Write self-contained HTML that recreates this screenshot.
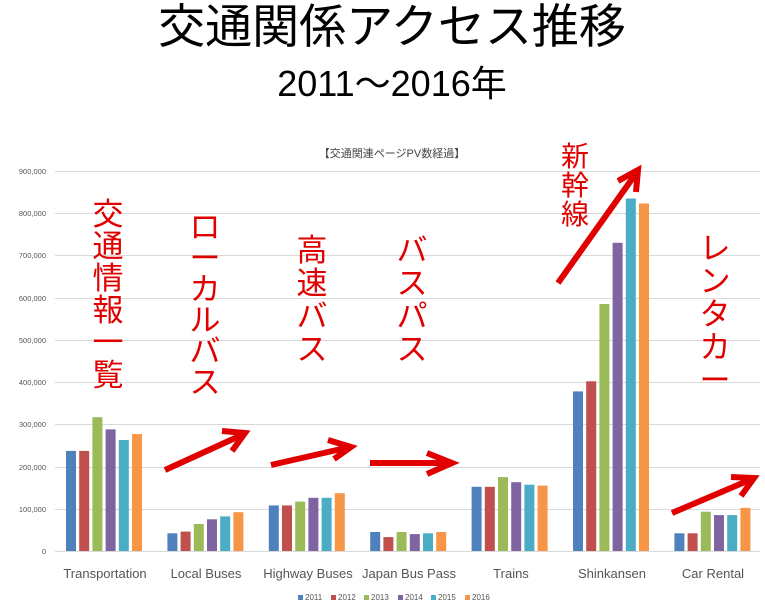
<!DOCTYPE html>
<html><head><meta charset="utf-8"><style>
html,body{margin:0;padding:0;background:#fff;}
svg{display:block;}
</style></head><body>
<svg width="765" height="611" viewBox="0 0 765 611" xmlns="http://www.w3.org/2000/svg" font-family="'Liberation Sans','Noto Sans CJK JP',sans-serif">
<text x="392" y="43" font-size="47" text-anchor="middle" fill="#000">交通関係アクセス推移</text>
<text x="392" y="96" font-size="36" text-anchor="middle" fill="#000">2011～2016年</text>
<text x="392" y="157" font-size="11" text-anchor="middle" fill="#444">【交通関連ページPV数経過】</text>
<g stroke="#d9d9d9" stroke-width="1">
<line x1="55" x2="760" y1="171.5" y2="171.5"/>
<line x1="55" x2="760" y1="213.5" y2="213.5"/>
<line x1="55" x2="760" y1="255.5" y2="255.5"/>
<line x1="55" x2="760" y1="298.5" y2="298.5"/>
<line x1="55" x2="760" y1="340.5" y2="340.5"/>
<line x1="55" x2="760" y1="382.5" y2="382.5"/>
<line x1="55" x2="760" y1="424.5" y2="424.5"/>
<line x1="55" x2="760" y1="467.5" y2="467.5"/>
<line x1="55" x2="760" y1="509.5" y2="509.5"/>
<line x1="55" x2="760" y1="551.5" y2="551.5"/>
</g>
<g font-size="7.5" fill="#555" text-anchor="end">
<text x="46" y="174">900,000</text>
<text x="46" y="216">800,000</text>
<text x="46" y="258">700,000</text>
<text x="46" y="301">600,000</text>
<text x="46" y="343">500,000</text>
<text x="46" y="385">400,000</text>
<text x="46" y="427">300,000</text>
<text x="46" y="470">200,000</text>
<text x="46" y="512">100,000</text>
<text x="46" y="554">0</text>
</g>
<g>
<rect x="66" y="450.9" width="10" height="100.1" fill="#4F81BD"/>
<rect x="79.2" y="450.9" width="10" height="100.1" fill="#C0504D"/>
<rect x="92.4" y="417.2" width="10" height="133.8" fill="#9BBB59"/>
<rect x="105.6" y="429.4" width="10" height="121.6" fill="#8064A2"/>
<rect x="118.8" y="440" width="10" height="111" fill="#4BACC6"/>
<rect x="132" y="434.1" width="10" height="116.9" fill="#F79646"/>

<rect x="167.4" y="533.3" width="10" height="17.7" fill="#4F81BD"/>
<rect x="180.6" y="531.6" width="10" height="19.4" fill="#C0504D"/>
<rect x="193.8" y="524" width="10" height="27" fill="#9BBB59"/>
<rect x="207" y="519.3" width="10" height="31.7" fill="#8064A2"/>
<rect x="220.2" y="516.4" width="10" height="34.6" fill="#4BACC6"/>
<rect x="233.4" y="512.2" width="10" height="38.8" fill="#F79646"/>

<rect x="268.8" y="505.4" width="10" height="45.6" fill="#4F81BD"/>
<rect x="282" y="505.4" width="10" height="45.6" fill="#C0504D"/>
<rect x="295.2" y="501.6" width="10" height="49.4" fill="#9BBB59"/>
<rect x="308.4" y="497.8" width="10" height="53.2" fill="#8064A2"/>
<rect x="321.6" y="497.8" width="10" height="53.2" fill="#4BACC6"/>
<rect x="334.8" y="493.2" width="10" height="57.8" fill="#F79646"/>

<rect x="370.2" y="532" width="10" height="19" fill="#4F81BD"/>
<rect x="383.4" y="537.1" width="10" height="13.9" fill="#C0504D"/>
<rect x="396.6" y="532" width="10" height="19" fill="#9BBB59"/>
<rect x="409.8" y="534.1" width="10" height="16.9" fill="#8064A2"/>
<rect x="423" y="533.3" width="10" height="17.7" fill="#4BACC6"/>
<rect x="436.2" y="532" width="10" height="19" fill="#F79646"/>

<rect x="471.6" y="486.8" width="10" height="64.2" fill="#4F81BD"/>
<rect x="484.8" y="486.8" width="10" height="64.2" fill="#C0504D"/>
<rect x="498" y="477.1" width="10" height="73.9" fill="#9BBB59"/>
<rect x="511.2" y="482.2" width="10" height="68.8" fill="#8064A2"/>
<rect x="524.4" y="484.7" width="10" height="66.3" fill="#4BACC6"/>
<rect x="537.6" y="485.6" width="10" height="65.4" fill="#F79646"/>

<rect x="573" y="391.4" width="10" height="159.6" fill="#4F81BD"/>
<rect x="586.2" y="381.3" width="10" height="169.7" fill="#C0504D"/>
<rect x="599.4" y="304" width="10" height="247" fill="#9BBB59"/>
<rect x="612.6" y="242.8" width="10" height="308.2" fill="#8064A2"/>
<rect x="625.8" y="198.5" width="10" height="352.5" fill="#4BACC6"/>
<rect x="639" y="203.5" width="10" height="347.5" fill="#F79646"/>

<rect x="674.4" y="533.3" width="10" height="17.7" fill="#4F81BD"/>
<rect x="687.6" y="533.3" width="10" height="17.7" fill="#C0504D"/>
<rect x="700.8" y="511.7" width="10" height="39.3" fill="#9BBB59"/>
<rect x="714" y="515.1" width="10" height="35.9" fill="#8064A2"/>
<rect x="727.2" y="515.1" width="10" height="35.9" fill="#4BACC6"/>
<rect x="740.4" y="507.9" width="10" height="43.1" fill="#F79646"/>
</g>
<g font-size="13" fill="#555" text-anchor="middle">
<text x="105" y="578">Transportation</text>
<text x="206" y="578">Local Buses</text>
<text x="308" y="578">Highway Buses</text>
<text x="409" y="578">Japan Bus Pass</text>
<text x="511" y="578">Trains</text>
<text x="612" y="578">Shinkansen</text>
<text x="713" y="578">Car Rental</text>
</g>
<g font-size="8" fill="#555">
<rect x="298" y="595" width="5" height="5" fill="#4F81BD"/><text x="305" y="600">2011</text>
<rect x="331" y="595" width="5" height="5" fill="#C0504D"/><text x="338" y="600">2012</text>
<rect x="364" y="595" width="5" height="5" fill="#9BBB59"/><text x="371" y="600">2013</text>
<rect x="398" y="595" width="5" height="5" fill="#8064A2"/><text x="405" y="600">2014</text>
<rect x="431" y="595" width="5" height="5" fill="#4BACC6"/><text x="438" y="600">2015</text>
<rect x="465" y="595" width="5" height="5" fill="#F79646"/><text x="472" y="600">2016</text>
</g>
<g fill="#e00000" font-size="31" text-anchor="middle">
<text x="108" y="225">交</text><text x="108" y="257">通</text><text x="108" y="289">情</text><text x="108" y="321">報</text><text x="108" y="353">一</text><text x="108" y="386">覧</text>
<text x="205" y="238">ロ</text><text x="205" y="269">ー</text><text x="205" y="300">カ</text><text x="205" y="331">ル</text><text x="205" y="362">バ</text><text x="205" y="393">ス</text>
<text x="312" y="261">高</text><text x="312" y="294">速</text><text x="312" y="327">バ</text><text x="312" y="360">ス</text>
<text x="412" y="261">バ</text><text x="412" y="294">ス</text><text x="412" y="327">パ</text><text x="412" y="360">ス</text>
<text x="575" y="166" font-size="28">新</text><text x="575" y="195" font-size="28">幹</text><text x="575" y="224" font-size="28">線</text>
<text x="715" y="259">レ</text><text x="715" y="292">ン</text><text x="715" y="325">タ</text><text x="715" y="358">カ</text><text x="715" y="391">ー</text>
</g>
<g stroke="#e00000" stroke-width="6" fill="none" stroke-linecap="butt" stroke-linejoin="miter">
<line x1="165" y1="470" x2="244" y2="434"/><polyline points="222,431 245,433 232,451"/>
<line x1="271" y1="465" x2="350" y2="447"/><polyline points="328,440 351,447 334,459"/>
<line x1="370" y1="463" x2="450" y2="463"/><polyline points="427,453 452,463 427,474"/>
<line x1="558" y1="283" x2="637" y2="172"/><polyline points="618,181 638,170 636,192"/>
<line x1="672" y1="513" x2="752" y2="479"/><polyline points="731,477 754,478 741,496"/>
</g>
</svg>
</body></html>
